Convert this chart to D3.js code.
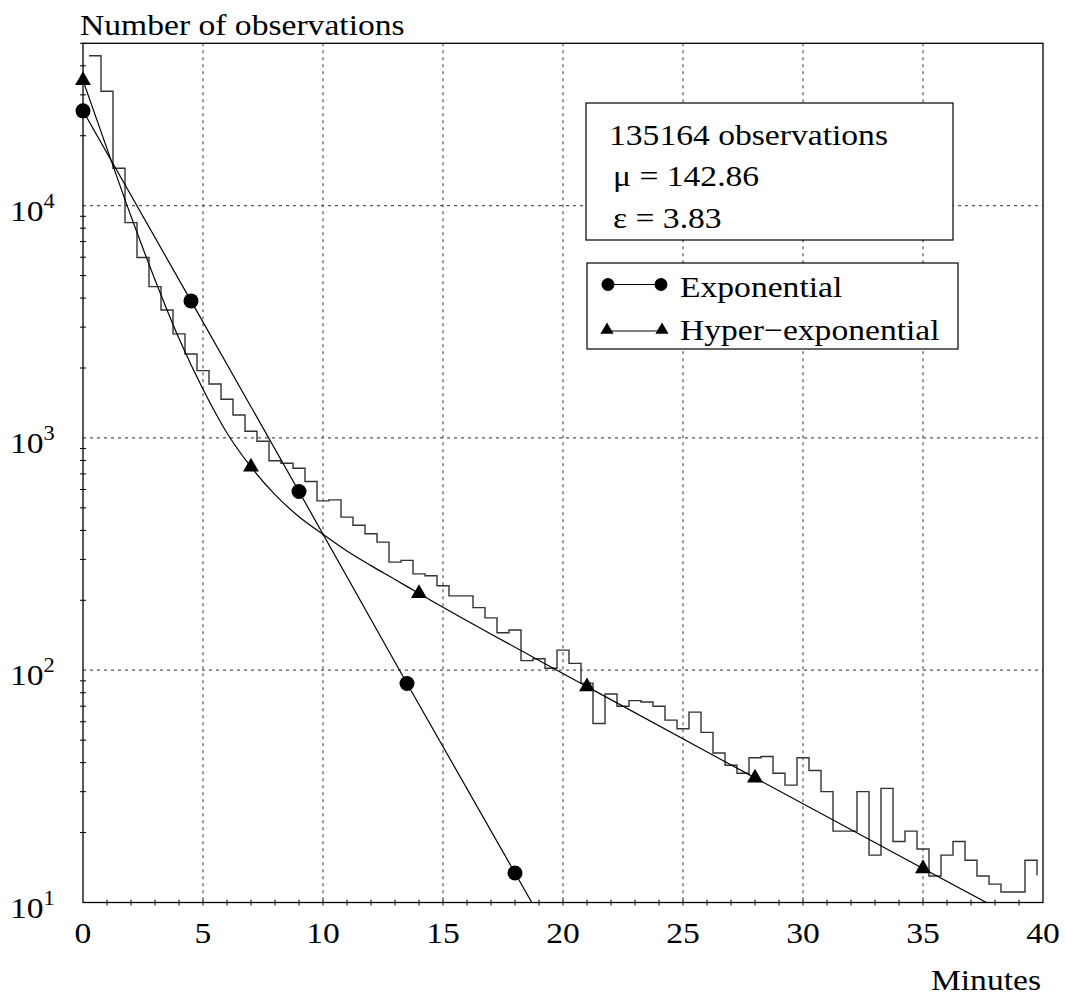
<!DOCTYPE html>
<html>
<head>
<meta charset="utf-8">
<script src="https://cdn.jsdelivr.net/npm/d3@7"></script>
<style>
  html, body { margin: 0; padding: 0; background: #fff; }
  svg text { font-family: "Liberation Serif", "Times New Roman", serif; fill: #000; }
</style>
</head>
<body>
<svg id="chart" width="1067" height="996"></svg>
<script>
// ---------------- data ----------------
// histogram: 0.5-minute bins, left edges starting at 0.25 min
const binStart = 0.25;
const binWidth = 0.5;
const histCounts = [
  44200, 31100, 14500, 8450, 5980, 4480, 3556, 2805, 2299, 1949,
  1708, 1468, 1256, 1069, 968, 798, 778, 741, 649, 536,
  541, 456, 421, 387, 356, 292, 297, 260, 255, 231,
  209, 209, 186, 168, 145, 149, 110, 112, 102, 122,
  107, 88, 59, 79, 70, 74, 73, 70, 61, 56,
  66, 54, 44, 39, 36, 42, 42.5, 36, 32, 42,
  37, 30, 20.3, 20.3, 30, 16, 31, 18.3, 20.3, 17,
  13, 16, 18.3, 15.2, 13, 12, 11.1, 11.1, 15.2, 13.1
];

// exponential fit (markers at these minutes)
const expMinutes = [0, 4.5, 9, 13.5, 18];
const expValues  = [25600, 3890, 588, 87.7, 13.4];
// line continues below the axis
const expLineMinutes = [0, 4.5, 9, 13.5, 18, 20];
const expLineValues  = [25600, 3890, 588, 87.7, 13.4, 5.8];

// hyper-exponential fit
const hypMinutes = [0, 7, 14, 21, 28, 35];
const hypValues  = [34600, 750, 214, 85, 34.4, 14.0];
const hypLineMinutes = [0, 1, 2, 3, 4, 5, 6, 7, 8, 9, 10, 11, 12, 13, 14, 21, 28, 35, 40];
const hypLineValues  = [34600, 17600, 9000, 4800, 2680, 1620, 1050, 750, 570, 458, 385, 326, 282, 246, 214, 85, 34.4, 14.0, 7.4];

const xTicks = [0, 5, 10, 15, 20, 25, 30, 35, 40];
const yTicks = [10, 100, 1000, 10000];
const yTickExp = ["1", "2", "3", "4"];

const titleText = "Number of observations";
const xTitle = "Minutes";
const infoLines = ["135164 observations", "\u03BC = 142.86", "\u03B5 = 3.83"];
const legendNames = ["Exponential", "Hyper\u2212exponential"];

// ---------------- drawing ----------------
const svg = d3.select("#chart");
const X0 = 83, X1 = 1043, Y0 = 902.5, Y1 = 43.3;
const x = d3.scaleLinear().domain([0, 40]).range([X0, X1]);
const y = d3.scaleLog().domain([10, 50000]).range([Y0, Y1]);
const FS = 30, SX = 1.12;

function label(g, px, py, txt, anchor, size) {
  return g.append("text")
    .attr("transform", `translate(${px},${py}) scale(${SX},1)`)
    .attr("text-anchor", anchor || "start")
    .attr("font-size", size || FS)
    .text(txt);
}

svg.append("defs").append("clipPath").attr("id", "clip")
  .append("rect").attr("x", X0).attr("y", Y1).attr("width", X1 - X0).attr("height", Y0 - Y1);

// grid
const grid = svg.append("g").attr("stroke", "#555").attr("stroke-width", 1.2)
  .attr("stroke-dasharray", "3,4");
grid.selectAll("line.vx").data(xTicks.slice(1, -1)).join("line")
  .attr("x1", d => x(d)).attr("x2", d => x(d)).attr("y1", Y1).attr("y2", Y0);
grid.selectAll("line.hy").data(yTicks.slice(1)).join("line")
  .attr("x1", X0).attr("x2", X1).attr("y1", d => y(d)).attr("y2", d => y(d));

// minor ticks
const minorY = [];
for (let e = 1; e <= 4; e++) for (let m = 2; m <= 9; m++) {
  const v = m * Math.pow(10, e);
  if (v <= 50000) minorY.push(v);
}
const ticks = svg.append("g").attr("stroke", "#000").attr("stroke-width", 1);
ticks.selectAll("line.my").data(minorY).join("line")
  .attr("x1", X0 - 3).attr("x2", X0 + 3).attr("y1", d => y(d)).attr("y2", d => y(d));
ticks.selectAll("line.mx").data(d3.range(1, 40)).join("line")
  .attr("x1", d => x(d)).attr("x2", d => x(d)).attr("y1", Y0 - 3).attr("y2", Y0 + 3);

// frame
svg.append("rect").attr("x", X0).attr("y", Y1).attr("width", X1 - X0).attr("height", Y0 - Y1)
  .attr("fill", "none").attr("stroke", "#000").attr("stroke-width", 1.3);

// data layer
const plot = svg.append("g").attr("clip-path", "url(#clip)");

const histPts = histCounts.map((v, i) => [binStart + i * binWidth, v]);
plot.append("path")
  .attr("d", d3.line().x(d => x(d[0])).y(d => y(d[1])).curve(d3.curveStepAfter)(histPts))
  .attr("fill", "none").attr("stroke", "#333").attr("stroke-width", 1.4);

const expPts = expLineMinutes.map((m, i) => [m, expLineValues[i]]);
plot.append("path")
  .attr("d", d3.line().x(d => x(d[0])).y(d => y(d[1]))(expPts))
  .attr("fill", "none").attr("stroke", "#000").attr("stroke-width", 1.2);

const hypPts = hypLineMinutes.map((m, i) => [m, hypLineValues[i]]);
plot.append("path")
  .attr("d", d3.line().x(d => x(d[0])).y(d => y(d[1])).curve(d3.curveMonotoneX)(hypPts))
  .attr("fill", "none").attr("stroke", "#000").attr("stroke-width", 1.2);

const markers = svg.append("g");
markers.selectAll("circle").data(expMinutes.map((m, i) => [m, expValues[i]])).join("circle")
  .attr("cx", d => x(d[0])).attr("cy", d => y(d[1])).attr("r", 7.5).attr("fill", "#000");
const tri = d3.symbol().type(d3.symbolTriangle).size(110);
markers.selectAll("path.tri").data(hypMinutes.map((m, i) => [m, hypValues[i]])).join("path")
  .attr("d", tri).attr("transform", d => `translate(${x(d[0])},${y(d[1])})`).attr("fill", "#000");

// info box
svg.append("rect").attr("x", 586).attr("y", 103).attr("width", 367).attr("height", 137)
  .attr("fill", "#fff").attr("stroke", "#000").attr("stroke-width", 1.2);
label(svg, 609, 145, infoLines[0]);
label(svg, 613, 186, infoLines[1]);
label(svg, 613, 228, infoLines[2]);

// legend box
svg.append("rect").attr("x", 587).attr("y", 263).attr("width", 371).attr("height", 86)
  .attr("fill", "#fff").attr("stroke", "#000").attr("stroke-width", 1.2);
svg.append("line").attr("x1", 608).attr("x2", 661).attr("y1", 284.5).attr("y2", 284.5)
  .attr("stroke", "#000").attr("stroke-width", 1.2);
svg.selectAll("circle.lg").data([608, 661]).join("circle")
  .attr("cx", d => d).attr("cy", 284.5).attr("r", 6.5).attr("fill", "#000");
svg.append("line").attr("x1", 607).attr("x2", 662).attr("y1", 331).attr("y2", 331)
  .attr("stroke", "#000").attr("stroke-width", 1.2);
const triS = d3.symbol().type(d3.symbolTriangle).size(75);
svg.selectAll("path.lg").data([607, 662]).join("path")
  .attr("d", triS).attr("transform", d => `translate(${d},330)`).attr("fill", "#000");
label(svg, 680, 297, legendNames[0]);
label(svg, 680, 340, legendNames[1]);

// axis labels
xTicks.forEach(t => label(svg, x(t), 943, String(t), "middle"));
yTicks.forEach((t, i) => {
  const tx = svg.append("text")
    .attr("transform", `translate(10,${y(t) + 15}) scale(${SX},1)`)
    .attr("font-size", FS);
  tx.append("tspan").text("10");
  tx.append("tspan").attr("font-size", 20).attr("dy", -13).text(yTickExp[i]);
});
label(svg, 80, 35, titleText);
label(svg, 1041, 990, xTitle, "end");
</script>
</body>
</html>
